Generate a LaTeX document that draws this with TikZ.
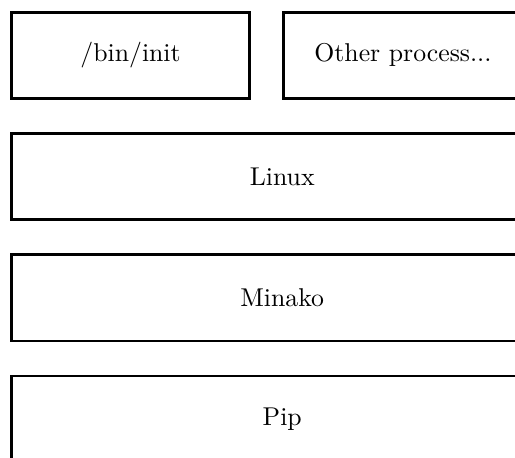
\documentclass[tikz,border=0pt]{standalone}
\usepackage{tikz}

\begin{document}
\begin{tikzpicture}[x=1pt,y=1pt,
	layer/.style={draw,line width=1.1pt,minimum height=33.5pt,inner sep=0pt},
	small/.style={layer,minimum width=92.5pt},
	wide/.style={layer,minimum width=210pt}]
	\path[use as bounding box,clip] (0,0) rectangle (200,-177.5);
	\node[small] (init) at (50.7,-21.45) {/bin/init};
	\node[small] (other) at (156.5,-21.45) {Other process...};
	\node[wide] (linux) at (109.6,-68.55) {Linux};
	\node[wide] (minako) at (109.6,-115.65) {Minako};
	\node[wide] (pip) at (109.6,-162.75) {Pip};
\end{tikzpicture}
\end{document}
